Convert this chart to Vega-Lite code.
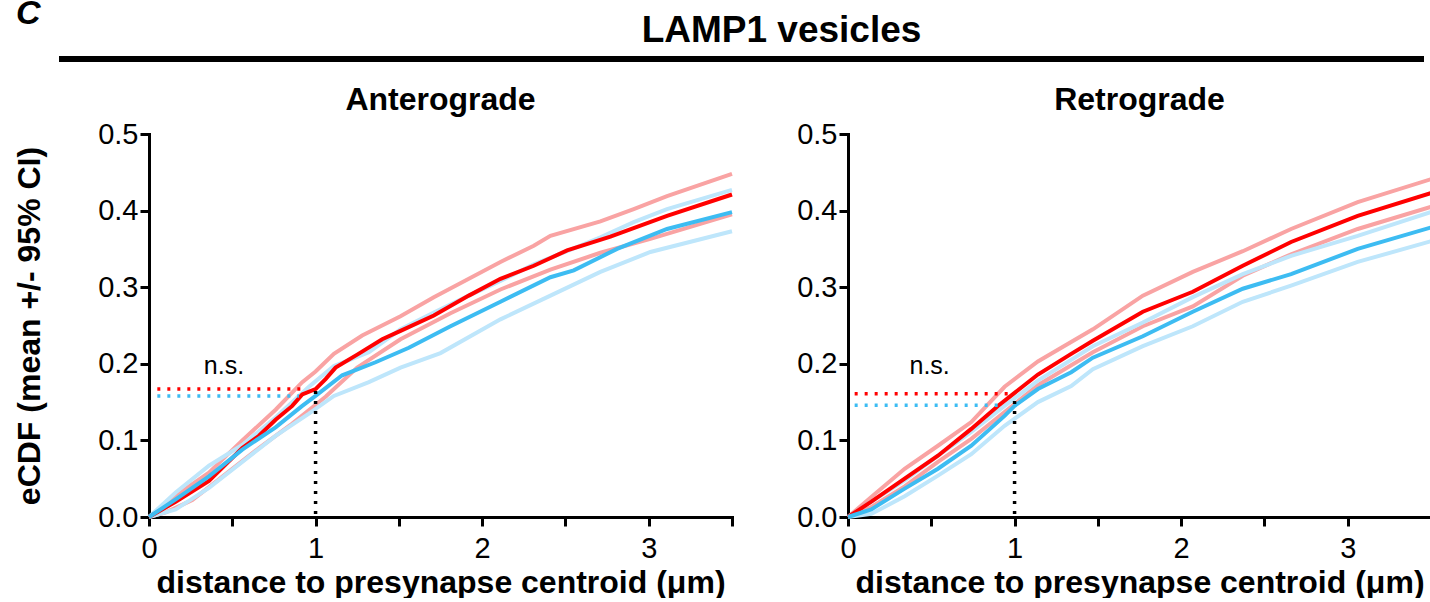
{
  "$schema": "https://vega.github.io/schema/vega-lite/v6.json",
  "padding": {"left": 13, "top": -4, "right": 0, "bottom": 0},
  "background": "white",
  "config": {
    "font": "Liberation Sans",
    "view": {"stroke": null},
    "axis": {
      "domainColor": "black", "domainWidth": 3, "domainCap": "square",
      "tickColor": "black", "tickWidth": 3, "tickSize": 9,
      "labelColor": "black", "labelFontSize": 29, "labelFont": "Liberation Sans", "labelFlush": false,
      "titleColor": "black", "titleFontSize": 32, "titleFontWeight": "bold", "titleFont": "Liberation Sans",
      "grid": false
    },
    "title": {"color": "black", "font": "Liberation Sans", "fontWeight": "bold"}
  },
  "datasets": {
    "curves": [
      {"p":"Anterograde","s":"g1 mean","x":0,"y":0},{"p":"Anterograde","s":"g1 mean","x":0.16,"y":0.02},{"p":"Anterograde","s":"g1 mean","x":0.36,"y":0.047},{"p":"Anterograde","s":"g1 mean","x":0.56,"y":0.09},{"p":"Anterograde","s":"g1 mean","x":0.66,"y":0.106},{"p":"Anterograde","s":"g1 mean","x":0.76,"y":0.127},{"p":"Anterograde","s":"g1 mean","x":0.86,"y":0.145},{"p":"Anterograde","s":"g1 mean","x":0.92,"y":0.16},{"p":"Anterograde","s":"g1 mean","x":1.0,"y":0.167},{"p":"Anterograde","s":"g1 mean","x":1.06,"y":0.18},{"p":"Anterograde","s":"g1 mean","x":1.12,"y":0.195},{"p":"Anterograde","s":"g1 mean","x":1.25,"y":0.212},{"p":"Anterograde","s":"g1 mean","x":1.4,"y":0.232},{"p":"Anterograde","s":"g1 mean","x":1.51,"y":0.243},{"p":"Anterograde","s":"g1 mean","x":1.71,"y":0.263},{"p":"Anterograde","s":"g1 mean","x":1.92,"y":0.289},{"p":"Anterograde","s":"g1 mean","x":2.11,"y":0.311},{"p":"Anterograde","s":"g1 mean","x":2.31,"y":0.328},{"p":"Anterograde","s":"g1 mean","x":2.51,"y":0.348},{"p":"Anterograde","s":"g1 mean","x":2.77,"y":0.366},{"p":"Anterograde","s":"g1 mean","x":3.11,"y":0.393},{"p":"Anterograde","s":"g1 mean","x":3.5,"y":0.421},
      {"p":"Anterograde","s":"g1 upper","x":0,"y":0},{"p":"Anterograde","s":"g1 upper","x":0.16,"y":0.028},{"p":"Anterograde","s":"g1 upper","x":0.36,"y":0.058},{"p":"Anterograde","s":"g1 upper","x":0.56,"y":0.1},{"p":"Anterograde","s":"g1 upper","x":0.76,"y":0.14},{"p":"Anterograde","s":"g1 upper","x":0.92,"y":0.176},{"p":"Anterograde","s":"g1 upper","x":1.0,"y":0.19},{"p":"Anterograde","s":"g1 upper","x":1.11,"y":0.213},{"p":"Anterograde","s":"g1 upper","x":1.28,"y":0.237},{"p":"Anterograde","s":"g1 upper","x":1.51,"y":0.262},{"p":"Anterograde","s":"g1 upper","x":1.71,"y":0.287},{"p":"Anterograde","s":"g1 upper","x":1.92,"y":0.311},{"p":"Anterograde","s":"g1 upper","x":2.11,"y":0.333},{"p":"Anterograde","s":"g1 upper","x":2.31,"y":0.354},{"p":"Anterograde","s":"g1 upper","x":2.41,"y":0.367},{"p":"Anterograde","s":"g1 upper","x":2.71,"y":0.386},{"p":"Anterograde","s":"g1 upper","x":2.91,"y":0.402},{"p":"Anterograde","s":"g1 upper","x":3.11,"y":0.419},{"p":"Anterograde","s":"g1 upper","x":3.5,"y":0.448},
      {"p":"Anterograde","s":"g1 lower","x":0,"y":0},{"p":"Anterograde","s":"g1 lower","x":0.1,"y":0.006},{"p":"Anterograde","s":"g1 lower","x":0.26,"y":0.022},{"p":"Anterograde","s":"g1 lower","x":0.46,"y":0.056},{"p":"Anterograde","s":"g1 lower","x":0.66,"y":0.09},{"p":"Anterograde","s":"g1 lower","x":0.86,"y":0.122},{"p":"Anterograde","s":"g1 lower","x":1.06,"y":0.157},{"p":"Anterograde","s":"g1 lower","x":1.25,"y":0.195},{"p":"Anterograde","s":"g1 lower","x":1.51,"y":0.232},{"p":"Anterograde","s":"g1 lower","x":1.81,"y":0.266},{"p":"Anterograde","s":"g1 lower","x":2.11,"y":0.297},{"p":"Anterograde","s":"g1 lower","x":2.41,"y":0.323},{"p":"Anterograde","s":"g1 lower","x":2.71,"y":0.345},{"p":"Anterograde","s":"g1 lower","x":3.01,"y":0.363},{"p":"Anterograde","s":"g1 lower","x":3.5,"y":0.395},
      {"p":"Anterograde","s":"g2 mean","x":0,"y":0},{"p":"Anterograde","s":"g2 mean","x":0.16,"y":0.023},{"p":"Anterograde","s":"g2 mean","x":0.36,"y":0.053},{"p":"Anterograde","s":"g2 mean","x":0.56,"y":0.088},{"p":"Anterograde","s":"g2 mean","x":0.76,"y":0.117},{"p":"Anterograde","s":"g2 mean","x":0.92,"y":0.145},{"p":"Anterograde","s":"g2 mean","x":1.0,"y":0.158},{"p":"Anterograde","s":"g2 mean","x":1.16,"y":0.185},{"p":"Anterograde","s":"g2 mean","x":1.36,"y":0.202},{"p":"Anterograde","s":"g2 mean","x":1.56,"y":0.221},{"p":"Anterograde","s":"g2 mean","x":1.81,"y":0.249},{"p":"Anterograde","s":"g2 mean","x":2.11,"y":0.281},{"p":"Anterograde","s":"g2 mean","x":2.41,"y":0.313},{"p":"Anterograde","s":"g2 mean","x":2.55,"y":0.322},{"p":"Anterograde","s":"g2 mean","x":2.81,"y":0.35},{"p":"Anterograde","s":"g2 mean","x":3.11,"y":0.376},{"p":"Anterograde","s":"g2 mean","x":3.5,"y":0.398},
      {"p":"Anterograde","s":"g2 upper","x":0,"y":0},{"p":"Anterograde","s":"g2 upper","x":0.16,"y":0.032},{"p":"Anterograde","s":"g2 upper","x":0.36,"y":0.067},{"p":"Anterograde","s":"g2 upper","x":0.56,"y":0.094},{"p":"Anterograde","s":"g2 upper","x":0.76,"y":0.13},{"p":"Anterograde","s":"g2 upper","x":0.96,"y":0.17},{"p":"Anterograde","s":"g2 upper","x":1.11,"y":0.197},{"p":"Anterograde","s":"g2 upper","x":1.32,"y":0.215},{"p":"Anterograde","s":"g2 upper","x":1.51,"y":0.245},{"p":"Anterograde","s":"g2 upper","x":1.71,"y":0.267},{"p":"Anterograde","s":"g2 upper","x":1.92,"y":0.289},{"p":"Anterograde","s":"g2 upper","x":2.11,"y":0.308},{"p":"Anterograde","s":"g2 upper","x":2.31,"y":0.33},{"p":"Anterograde","s":"g2 upper","x":2.51,"y":0.347},{"p":"Anterograde","s":"g2 upper","x":2.71,"y":0.365},{"p":"Anterograde","s":"g2 upper","x":2.91,"y":0.385},{"p":"Anterograde","s":"g2 upper","x":3.11,"y":0.402},{"p":"Anterograde","s":"g2 upper","x":3.5,"y":0.427},
      {"p":"Anterograde","s":"g2 lower","x":0,"y":0},{"p":"Anterograde","s":"g2 lower","x":0.16,"y":0.01},{"p":"Anterograde","s":"g2 lower","x":0.36,"y":0.038},{"p":"Anterograde","s":"g2 lower","x":0.56,"y":0.072},{"p":"Anterograde","s":"g2 lower","x":0.76,"y":0.106},{"p":"Anterograde","s":"g2 lower","x":0.96,"y":0.135},{"p":"Anterograde","s":"g2 lower","x":1.11,"y":0.158},{"p":"Anterograde","s":"g2 lower","x":1.32,"y":0.176},{"p":"Anterograde","s":"g2 lower","x":1.51,"y":0.195},{"p":"Anterograde","s":"g2 lower","x":1.75,"y":0.214},{"p":"Anterograde","s":"g2 lower","x":2.11,"y":0.258},{"p":"Anterograde","s":"g2 lower","x":2.41,"y":0.289},{"p":"Anterograde","s":"g2 lower","x":2.71,"y":0.32},{"p":"Anterograde","s":"g2 lower","x":3.01,"y":0.346},{"p":"Anterograde","s":"g2 lower","x":3.5,"y":0.373},
      {"p":"Retrograde","s":"g1 mean","x":0,"y":0},{"p":"Retrograde","s":"g1 mean","x":0.14,"y":0.02},{"p":"Retrograde","s":"g1 mean","x":0.34,"y":0.05},{"p":"Retrograde","s":"g1 mean","x":0.54,"y":0.08},{"p":"Retrograde","s":"g1 mean","x":0.74,"y":0.115},{"p":"Retrograde","s":"g1 mean","x":0.9,"y":0.145},{"p":"Retrograde","s":"g1 mean","x":1.0,"y":0.162},{"p":"Retrograde","s":"g1 mean","x":1.14,"y":0.186},{"p":"Retrograde","s":"g1 mean","x":1.34,"y":0.213},{"p":"Retrograde","s":"g1 mean","x":1.47,"y":0.23},{"p":"Retrograde","s":"g1 mean","x":1.77,"y":0.268},{"p":"Retrograde","s":"g1 mean","x":2.07,"y":0.294},{"p":"Retrograde","s":"g1 mean","x":2.37,"y":0.328},{"p":"Retrograde","s":"g1 mean","x":2.66,"y":0.359},{"p":"Retrograde","s":"g1 mean","x":3.06,"y":0.393},{"p":"Retrograde","s":"g1 mean","x":3.5,"y":0.423},
      {"p":"Retrograde","s":"g1 upper","x":0,"y":0},{"p":"Retrograde","s":"g1 upper","x":0.14,"y":0.026},{"p":"Retrograde","s":"g1 upper","x":0.34,"y":0.063},{"p":"Retrograde","s":"g1 upper","x":0.54,"y":0.093},{"p":"Retrograde","s":"g1 upper","x":0.74,"y":0.124},{"p":"Retrograde","s":"g1 upper","x":0.94,"y":0.17},{"p":"Retrograde","s":"g1 upper","x":1.14,"y":0.203},{"p":"Retrograde","s":"g1 upper","x":1.47,"y":0.245},{"p":"Retrograde","s":"g1 upper","x":1.77,"y":0.289},{"p":"Retrograde","s":"g1 upper","x":2.07,"y":0.32},{"p":"Retrograde","s":"g1 upper","x":2.37,"y":0.347},{"p":"Retrograde","s":"g1 upper","x":2.66,"y":0.376},{"p":"Retrograde","s":"g1 upper","x":3.06,"y":0.411},{"p":"Retrograde","s":"g1 upper","x":3.5,"y":0.441},
      {"p":"Retrograde","s":"g1 lower","x":0,"y":0},{"p":"Retrograde","s":"g1 lower","x":0.14,"y":0.013},{"p":"Retrograde","s":"g1 lower","x":0.34,"y":0.04},{"p":"Retrograde","s":"g1 lower","x":0.54,"y":0.072},{"p":"Retrograde","s":"g1 lower","x":0.74,"y":0.102},{"p":"Retrograde","s":"g1 lower","x":0.94,"y":0.137},{"p":"Retrograde","s":"g1 lower","x":1.14,"y":0.172},{"p":"Retrograde","s":"g1 lower","x":1.47,"y":0.215},{"p":"Retrograde","s":"g1 lower","x":1.77,"y":0.249},{"p":"Retrograde","s":"g1 lower","x":2.07,"y":0.275},{"p":"Retrograde","s":"g1 lower","x":2.37,"y":0.315},{"p":"Retrograde","s":"g1 lower","x":2.66,"y":0.343},{"p":"Retrograde","s":"g1 lower","x":3.06,"y":0.376},{"p":"Retrograde","s":"g1 lower","x":3.5,"y":0.405},
      {"p":"Retrograde","s":"g2 mean","x":0,"y":0},{"p":"Retrograde","s":"g2 mean","x":0.14,"y":0.01},{"p":"Retrograde","s":"g2 mean","x":0.34,"y":0.037},{"p":"Retrograde","s":"g2 mean","x":0.54,"y":0.063},{"p":"Retrograde","s":"g2 mean","x":0.74,"y":0.093},{"p":"Retrograde","s":"g2 mean","x":0.94,"y":0.132},{"p":"Retrograde","s":"g2 mean","x":1.0,"y":0.145},{"p":"Retrograde","s":"g2 mean","x":1.14,"y":0.167},{"p":"Retrograde","s":"g2 mean","x":1.34,"y":0.189},{"p":"Retrograde","s":"g2 mean","x":1.47,"y":0.208},{"p":"Retrograde","s":"g2 mean","x":1.77,"y":0.236},{"p":"Retrograde","s":"g2 mean","x":2.07,"y":0.268},{"p":"Retrograde","s":"g2 mean","x":2.37,"y":0.298},{"p":"Retrograde","s":"g2 mean","x":2.66,"y":0.317},{"p":"Retrograde","s":"g2 mean","x":3.06,"y":0.35},{"p":"Retrograde","s":"g2 mean","x":3.5,"y":0.378},
      {"p":"Retrograde","s":"g2 upper","x":0,"y":0},{"p":"Retrograde","s":"g2 upper","x":0.14,"y":0.02},{"p":"Retrograde","s":"g2 upper","x":0.34,"y":0.048},{"p":"Retrograde","s":"g2 upper","x":0.54,"y":0.08},{"p":"Retrograde","s":"g2 upper","x":0.74,"y":0.111},{"p":"Retrograde","s":"g2 upper","x":0.94,"y":0.145},{"p":"Retrograde","s":"g2 upper","x":1.14,"y":0.178},{"p":"Retrograde","s":"g2 upper","x":1.47,"y":0.223},{"p":"Retrograde","s":"g2 upper","x":1.77,"y":0.254},{"p":"Retrograde","s":"g2 upper","x":2.07,"y":0.287},{"p":"Retrograde","s":"g2 upper","x":2.37,"y":0.317},{"p":"Retrograde","s":"g2 upper","x":2.66,"y":0.341},{"p":"Retrograde","s":"g2 upper","x":3.06,"y":0.367},{"p":"Retrograde","s":"g2 upper","x":3.5,"y":0.398},
      {"p":"Retrograde","s":"g2 lower","x":0,"y":0},{"p":"Retrograde","s":"g2 lower","x":0.14,"y":0.004},{"p":"Retrograde","s":"g2 lower","x":0.34,"y":0.027},{"p":"Retrograde","s":"g2 lower","x":0.54,"y":0.054},{"p":"Retrograde","s":"g2 lower","x":0.74,"y":0.082},{"p":"Retrograde","s":"g2 lower","x":0.94,"y":0.119},{"p":"Retrograde","s":"g2 lower","x":1.14,"y":0.15},{"p":"Retrograde","s":"g2 lower","x":1.34,"y":0.171},{"p":"Retrograde","s":"g2 lower","x":1.47,"y":0.193},{"p":"Retrograde","s":"g2 lower","x":1.77,"y":0.223},{"p":"Retrograde","s":"g2 lower","x":2.07,"y":0.249},{"p":"Retrograde","s":"g2 lower","x":2.37,"y":0.281},{"p":"Retrograde","s":"g2 lower","x":2.66,"y":0.302},{"p":"Retrograde","s":"g2 lower","x":3.06,"y":0.333},{"p":"Retrograde","s":"g2 lower","x":3.5,"y":0.36}
    ],
    "refs": [
      {"p":"Anterograde","s":"g1 mean","x":0.05,"x2":0.93,"y":0.167,"y2":0.167},
      {"p":"Anterograde","s":"g2 mean","x":0.05,"x2":0.9,"y":0.158,"y2":0.158},
      {"p":"Anterograde","s":"x = 1","x":1,"x2":1,"y":0.004,"y2":0.165},
      {"p":"Retrograde","s":"g1 mean","x":0.04,"x2":0.96,"y":0.161,"y2":0.161},
      {"p":"Retrograde","s":"g2 mean","x":0.04,"x2":0.92,"y":0.146,"y2":0.146},
      {"p":"Retrograde","s":"x = 1","x":1,"x2":1,"y":0.004,"y2":0.16}
    ],
    "notes": [
      {"p":"Anterograde","x":0.45,"y":0.197,"label":"n.s."},
      {"p":"Retrograde","x":0.49,"y":0.197,"label":"n.s."}
    ],
    "header": [{"start":0,"end":1,"level":0}]
  },
  "vconcat": [
    {
      "width": 1275, "height": 1,
      "data": {"name": "header"},
      "mark": {"type": "rule", "strokeWidth": 6, "color": "black"},
      "encoding": {
        "x": {"field": "start", "type": "quantitative", "scale": {"domain": [0, 1], "range": [-90, 1275]},
          "axis": {"orient": "top", "title": "LAMP1 vesicles", "domain": false, "ticks": false, "labels": false, "titleX": 632, "titleY": -17, "titleAlign": "center", "titleBaseline": "alphabetic", "titleFontSize": 37}},
        "x2": {"field": "end"},
        "y": {"field": "level", "type": "quantitative", "scale": {"domain": [0, 1]},
          "axis": {"title": "C", "domain": false, "ticks": false, "labels": false, "titleAngle": 0, "titleAlign": "right", "titleBaseline": "alphabetic", "titleX": -109, "titleY": -35, "titleFontSize": 34, "titleFontStyle": "italic", "titleFontWeight": "bold"}}
      }
    },
    {
      "hconcat": [
        {
          "width": 583, "height": 383,
          "title": {"text": "Anterograde", "fontSize": 32, "offset": -22, "baseline": "alphabetic", "frame": "group"},
          "encoding": {
            "x": {"field": "x", "type": "quantitative", "scale": {"domain": [0, 3.5], "nice": false},
              "axis": {"values": [0, 0.5, 1, 1.5, 2, 2.5, 3, 3.5], "format": ".0f", "labelExpr": "datum.value % 1 === 0 ? datum.label : ''", "labelPadding": 8, "title": "distance to presynapse centroid (μm)", "titlePadding": 4}},
            "y": {"field": "y", "type": "quantitative", "scale": {"domain": [0, 0.5], "nice": false},
              "axis": {"values": [0, 0.1, 0.2, 0.3, 0.4, 0.5], "format": ".1f", "labelPadding": 2, "title": "eCDF (mean +/- 95% CI)", "titlePadding": 51}},
            "color": {"field": "s", "type": "nominal", "legend": null,
              "scale": {"domain": ["g1 upper", "g1 lower", "g2 upper", "g2 lower", "g1 mean", "g2 mean", "x = 1"], "range": ["#F9A3A3", "#F9A3A3", "#BEE6FB", "#BEE6FB", "#FF0000", "#3DBCF2", "#000000"]}}
          },
          "layer": [
            {"data": {"name": "curves"}, "transform": [{"filter": {"field": "p", "equal": "Anterograde"}}, {"filter": {"field": "s", "oneOf": ["g1 upper", "g1 lower", "g2 upper", "g2 lower"]}}],
              "mark": {"type": "line", "strokeWidth": 4}},
            {"data": {"name": "curves"}, "transform": [{"filter": {"field": "p", "equal": "Anterograde"}}, {"filter": {"field": "s", "oneOf": ["g2 mean", "g1 mean"]}}],
              "mark": {"type": "line", "strokeWidth": 4}},
            {"data": {"name": "refs"}, "transform": [{"filter": {"field": "p", "equal": "Anterograde"}}],
              "mark": {"type": "rule", "strokeWidth": 3.5, "strokeDash": [3, 7]},
              "encoding": {"x2": {"field": "x2"}, "y2": {"field": "y2"}}},
            {"data": {"name": "notes"}, "transform": [{"filter": {"field": "p", "equal": "Anterograde"}}],
              "mark": {"type": "text", "fontSize": 25, "font": "Liberation Sans"},
              "encoding": {"text": {"field": "label"}, "color": {"value": "black"}}}
          ]
        },
        {
          "width": 583, "height": 383,
          "title": {"text": "Retrograde", "fontSize": 32, "offset": -22, "baseline": "alphabetic", "frame": "group"},
          "encoding": {
            "x": {"field": "x", "type": "quantitative", "scale": {"domain": [0, 3.5], "nice": false},
              "axis": {"values": [0, 0.5, 1, 1.5, 2, 2.5, 3, 3.5], "format": ".0f", "labelExpr": "datum.value % 1 === 0 ? datum.label : ''", "labelPadding": 8, "title": "distance to presynapse centroid (μm)", "titlePadding": 4}},
            "y": {"field": "y", "type": "quantitative", "scale": {"domain": [0, 0.5], "nice": false},
              "axis": {"values": [0, 0.1, 0.2, 0.3, 0.4, 0.5], "format": ".1f", "labelPadding": 2, "title": null}},
            "color": {"field": "s", "type": "nominal", "legend": null,
              "scale": {"domain": ["g1 upper", "g1 lower", "g2 upper", "g2 lower", "g1 mean", "g2 mean", "x = 1"], "range": ["#F9A3A3", "#F9A3A3", "#BEE6FB", "#BEE6FB", "#FF0000", "#3DBCF2", "#000000"]}}
          },
          "layer": [
            {"data": {"name": "curves"}, "transform": [{"filter": {"field": "p", "equal": "Retrograde"}}, {"filter": {"field": "s", "oneOf": ["g1 upper", "g1 lower", "g2 upper", "g2 lower"]}}],
              "mark": {"type": "line", "strokeWidth": 4}},
            {"data": {"name": "curves"}, "transform": [{"filter": {"field": "p", "equal": "Retrograde"}}, {"filter": {"field": "s", "oneOf": ["g2 mean", "g1 mean"]}}],
              "mark": {"type": "line", "strokeWidth": 4}},
            {"data": {"name": "refs"}, "transform": [{"filter": {"field": "p", "equal": "Retrograde"}}],
              "mark": {"type": "rule", "strokeWidth": 3.5, "strokeDash": [3, 7]},
              "encoding": {"x2": {"field": "x2"}, "y2": {"field": "y2"}}},
            {"data": {"name": "notes"}, "transform": [{"filter": {"field": "p", "equal": "Retrograde"}}],
              "mark": {"type": "text", "fontSize": 25, "font": "Liberation Sans"},
              "encoding": {"text": {"field": "label"}, "color": {"value": "black"}}}
          ]
        }
      ],
      "spacing": 56
    }
  ],
  "spacing": 22
}
